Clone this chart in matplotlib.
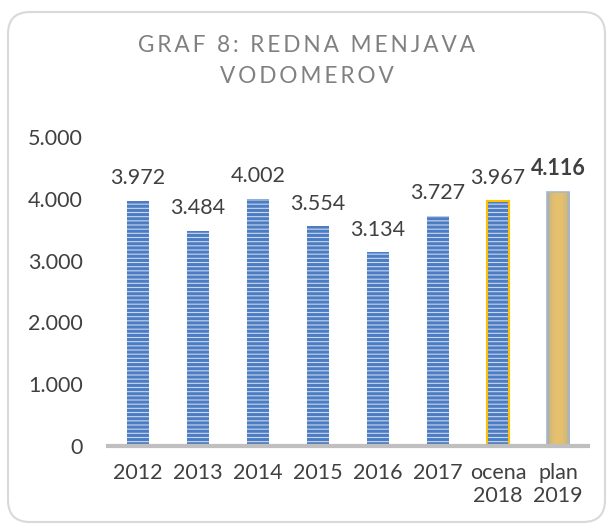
import numpy as np
import matplotlib
matplotlib.use('Agg')
import matplotlib.pyplot as plt
from matplotlib.patches import FancyBboxPatch
from matplotlib.transforms import IdentityTransform
from matplotlib.colors import LinearSegmentedColormap

# data
categories = ['2012', '2013', '2014', '2015', '2016', '2017', 'ocena\n2018', 'plan\n2019']
values = [3972, 3484, 4002, 3554, 3134, 3727, 3967, 4116]
value_labels = ['3.972', '3.484', '4.002', '3.554', '3.134', '3.727', '3.967', '4.116']
yticks = [0, 1000, 2000, 3000, 4000, 5000]
ytick_labels = ['0', '1.000', '2.000', '3.000', '4.000', '5.000']
title_lines = ['GRAF 8: REDNA MENJAVA', 'VODOMEROV']

plt.rcParams['font.family'] = ['Lato', 'DejaVu Sans']
plt.rcParams['hatch.linewidth'] = 2.2

text_col = '#404040'
fs = 15.5

fig = plt.figure(figsize=(6.13, 5.3), dpi=100)
ax = fig.add_axes([108 / 613, 84 / 530, 480 / 613, 309 / 530])

# rounded outer border
border = FancyBboxPatch((8, 8), 597, 510, boxstyle='round,pad=0,rounding_size=22',
                        transform=IdentityTransform(), facecolor='white',
                        edgecolor='#D9D9D9', linewidth=1.5, zorder=-10)
fig.patches.append(border)

x = np.arange(len(categories))
w = 0.38
bars = ax.bar(x, values, width=w, color='#C9D8EF', edgecolor='#4C7CC2',
              hatch='----', linewidth=0, zorder=2)

# estimate 2018 gets a gold outline
ax.bar(x[6], values[6], width=w, facecolor='none', edgecolor='#FFC000',
       linewidth=1.5, zorder=3)

# plan 2019: gold gradient
b19 = bars[7]
b19.set_hatch('')
b19.set_facecolor('#E0BD6F')
xs = np.linspace(-1, 1, 50)
grad = 1 - np.abs(xs) ** 2
cmap = LinearSegmentedColormap.from_list('g', ['#95A8BE', '#D4B97C', '#E6C16C'])
im = ax.imshow(grad[np.newaxis, :], cmap=cmap, aspect='auto',
               extent=[x[7] - w / 2, x[7] + w / 2, 0, values[7]], zorder=2.5)
im.set_clip_path(b19)
ax.bar(x[7], values[7], width=w, facecolor='none', edgecolor='#A9B8C8',
       linewidth=1.2, zorder=3)

for i, (v, lab) in enumerate(zip(values, value_labels)):
    ax.text(x[i], v + 200, lab, ha='center', va='bottom', fontsize=fs,
            color=text_col, fontweight='bold' if i == 7 else 'normal')

ax.set_xlim(-0.5, len(categories) - 0.5)
ax.set_ylim(0, 5000)
ax.set_yticks(yticks)
ax.set_yticklabels(ytick_labels)
ax.set_xticks(x)
ax.set_xticklabels(categories)
ax.tick_params(axis='both', length=0, labelsize=fs, colors=text_col)
ax.tick_params(axis='y', pad=18)
ax.tick_params(axis='x', pad=12)
for s in ['top', 'right', 'left']:
    ax.spines[s].set_visible(False)
ax.spines['bottom'].set_color('#BFBFBF')
ax.spines['bottom'].set_linewidth(3)
ax.spines['bottom'].set_zorder(4)

# letter-spaced title
spaced = '\n'.join('\u2009'.join(line) for line in title_lines)
fig.text(0.5, 1 - 61 / 530, spaced, ha='center', va='center', fontsize=16.3,
         color='#808080', linespacing=1.55)

fig.savefig('out.png', dpi=100)
